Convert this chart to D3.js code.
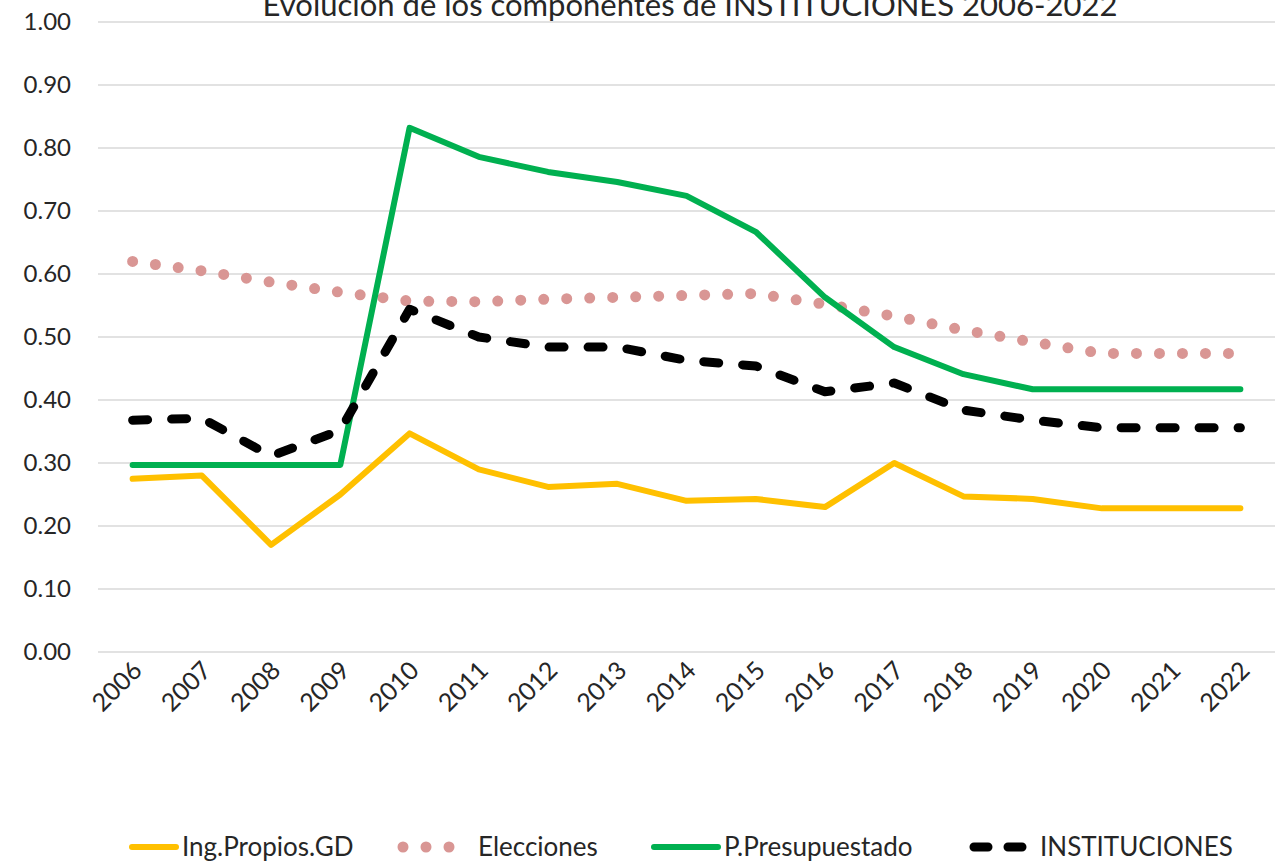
<!DOCTYPE html>
<meta charset="utf-8">
<style>
body { margin: 0; background: #fff; }
text { font-family: Lato, "Open Sans", sans-serif; fill: #262626; }
.grid line { stroke: #d9d9d9; stroke-width: 1.5px; }
</style>
<svg width="1281" height="861"></svg>
<script src="https://d3js.org/d3.v7.min.js"></script>
<script>
var years = ["2006","2007","2008","2009","2010","2011","2012","2013","2014","2015","2016","2017","2018","2019","2020","2021","2022"];
var ingPropios = [0.275,0.280,0.170,0.250,0.347,0.290,0.262,0.267,0.240,0.243,0.230,0.300,0.247,0.243,0.228,0.228,0.228];
var elecciones = [0.620,0.605,0.587,0.571,0.557,0.556,0.560,0.563,0.566,0.569,0.552,0.533,0.511,0.492,0.474,0.474,0.474];
var presupuestado = [0.297,0.297,0.297,0.297,0.832,0.786,0.762,0.746,0.724,0.667,0.563,0.484,0.441,0.417,0.417,0.417,0.417];
var instituciones = [0.368,0.371,0.311,0.352,0.544,0.500,0.484,0.484,0.463,0.454,0.413,0.427,0.384,0.368,0.356,0.356,0.356];
var yTicks = [0,0.1,0.2,0.3,0.4,0.5,0.6,0.7,0.8,0.9,1.0];
var title = "Evolución de los componentes de INSTITUCIONES 2006-2022";

var series = [
  {name: "Ing.Propios.GD", values: ingPropios, color: "#FFC000", width: 6, dash: null},
  {name: "Elecciones", values: elecciones, color: "#D99694", width: 11, dash: "0 23"},
  {name: "P.Presupuestado", values: presupuestado, color: "#00B050", width: 6, dash: null},
  {name: "INSTITUCIONES", values: instituciones, color: "#000000", width: 9, dash: "15 24"}
]

var svg = d3.select("svg")
var plotLeft = 98, plotRight = 1275, plotTop = 22, plotBottom = 652

var x = d3.scaleBand().domain(years).range([plotLeft, plotRight])
var y = d3.scaleLinear().domain([0, 1]).range([plotBottom, plotTop])

// gridlines
svg.append("g").attr("class", "grid")
  .selectAll("line").data(yTicks).enter().append("line")
  .attr("x1", plotLeft).attr("x2", plotRight)
  .attr("y1", function(d) { return y(d) }).attr("y2", function(d) { return y(d) })

// y labels
svg.append("g").selectAll("text").data(yTicks).enter().append("text")
  .attr("x", 71).attr("y", function(d) { return y(d) })
  .attr("dy", "0.35em").attr("text-anchor", "end")
  .style("font-size", "24px")
  .text(function(d) { return d.toFixed(2) })

// x labels rotated
svg.append("g").selectAll("text").data(years).enter().append("text")
  .attr("transform", function(d) {
    return "translate(" + (x(d) + x.bandwidth() / 2 + 11) + "," + 672 + ") rotate(-45)"
  })
  .attr("text-anchor", "end")
  .style("font-size", "25px")
  .text(function(d) { return d })

// lines
var line = d3.line()
  .x(function(d, i) { return x(years[i]) + x.bandwidth() / 2 })
  .y(function(d) { return y(d) })

series.forEach(function(s) {
  svg.append("path")
    .attr("d", line(s.values))
    .attr("fill", "none")
    .attr("stroke", s.color)
    .attr("stroke-width", s.width)
    .attr("stroke-linecap", "round")
    .attr("stroke-linejoin", "round")
    .attr("stroke-dasharray", s.dash)
})

// title
svg.append("text")
  .attr("x", 690).attr("y", 16)
  .attr("text-anchor", "middle")
  .style("font-size", "31px")
  .text(title)

// legend
var legendX = [132, 403, 654, 974]
var legendLen = [44, 47, 64, 48]
var legendDash = [null, "0 23", null, "14 20"]
var legendTextX = [182, 478, 724, 1040]
var ly = 847
series.forEach(function(s, i) {
  svg.append("line")
    .attr("x1", legendX[i]).attr("x2", legendX[i] + legendLen[i])
    .attr("y1", ly).attr("y2", ly)
    .attr("stroke", s.color)
    .attr("stroke-width", s.width)
    .attr("stroke-linecap", "round")
    .attr("stroke-dasharray", legendDash[i])
  svg.append("text")
    .attr("x", legendTextX[i]).attr("y", ly).attr("dy", "0.35em")
    .style("font-size", "26px")
    .text(s.name)
})
</script>
